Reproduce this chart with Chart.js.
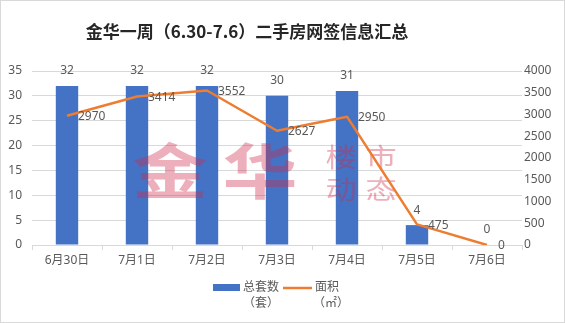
<!DOCTYPE html>
<html>
<head>
<meta charset="utf-8">
<script src="https://cdn.jsdelivr.net/npm/chart.js@4/dist/chart.umd.min.js"></script>
<style>
  html, body { margin: 0; padding: 0; background: #fff; }
  #wrap { width: 565px; height: 323px; }
</style>
</head>
<body>
<div id="wrap"><canvas id="weekChart" width="565" height="323"></canvas></div>
<script>
// 金华一周二手房网签：套数（左轴）与面积（右轴）
const days = ['6月30日', '7月1日', '7月2日', '7月3日', '7月4日', '7月5日', '7月6日'];
const units = [32, 32, 32, 30, 31, 4, 0];
const areas = [2970, 3414, 3552, 2627, 2950, 475, 0];
const unitTicks = [0, 5, 10, 15, 20, 25, 30, 35];
const areaTicks = [0, 500, 1000, 1500, 2000, 2500, 3000, 3500, 4000];

const titleText = '金华一周（6.30-7.6）二手房网签信息汇总';
const unitLabel = ['总套数', '（套）'];
const areaLabel = ['面积', '（㎡）'];

const BLUE = '#4472C4';
const ORANGE = '#ED7D31';
const TEXT = '#595959';
const GRID = '#d9d9d9';
const FONT = "'Noto Sans', 'Noto Sans CJK SC', sans-serif";

// pink "金华 楼市 动态" stamp laid over the bars, under the line
const watermark = {
  id: 'watermark',
  afterDatasetDraw(chart, args) {
    if (args.index !== 0) return;
    const ctx = chart.ctx;
    ctx.save();
    ctx.fillStyle = 'rgba(205, 45, 75, 0.38)';
    ctx.textAlign = 'center';
    ctx.textBaseline = 'middle';
    const big = [['金', 170, 171], ['华', 260, 171]];
    ctx.font = "bold 60px 'Noto Sans CJK SC'";
    big.forEach(([ch, x, y]) => {
      ctx.save();
      ctx.translate(x, y);
      ctx.scale(1.25, 1);
      ctx.fillText(ch, 0, 0);
      ctx.restore();
    });
    const small = [['楼', 341, 157], ['市', 381, 157], ['动', 341, 189], ['态', 381, 189]];
    ctx.font = "26px 'Noto Sans CJK SC'";
    small.forEach(([ch, x, y]) => {
      ctx.save();
      ctx.translate(x, y);
      ctx.scale(1.2, 1);
      ctx.fillText(ch, 0, 0);
      ctx.restore();
    });
    ctx.restore();
  }
};

// value labels: above the bars, to the right of the line points
const valueLabels = {
  id: 'valueLabels',
  afterDatasetsDraw(chart) {
    const ctx = chart.ctx;
    ctx.save();
    ctx.font = '12px ' + FONT;
    ctx.fillStyle = TEXT;
    ctx.textBaseline = 'middle';
    const bars = chart.getDatasetMeta(0).data;
    ctx.textAlign = 'center';
    bars.forEach((el, i) => ctx.fillText(String(units[i]), el.x, el.y - 15));
    const pts = chart.getDatasetMeta(1).data;
    ctx.textAlign = 'left';
    pts.forEach((el, i) => ctx.fillText(String(areas[i]), el.x + 11, el.y + 1));
    ctx.restore();
  }
};

// title, two-line legend and frame
const decor = {
  id: 'decor',
  afterDraw(chart) {
    const ctx = chart.ctx;
    ctx.save();
    ctx.fillStyle = '#262626';
    ctx.textAlign = 'center';
    ctx.textBaseline = 'middle';
    ctx.font = "bold 17px 'Noto Sans CJK SC', 'DejaVu Serif'";
    ctx.fillText(titleText, 247, 32);

    ctx.font = '12px ' + FONT;
    ctx.fillStyle = BLUE;
    ctx.fillRect(213, 284, 27, 7);
    ctx.fillStyle = TEXT;
    ctx.fillText(unitLabel[0], 261, 288);
    ctx.fillText(unitLabel[1], 261, 304);

    ctx.strokeStyle = ORANGE;
    ctx.lineWidth = 2.5;
    ctx.beginPath();
    ctx.moveTo(283, 288);
    ctx.lineTo(312, 288);
    ctx.stroke();
    ctx.fillText(areaLabel[0], 327, 288);
    ctx.fillText(areaLabel[1], 331, 304);

    ctx.strokeStyle = GRID;
    ctx.lineWidth = 1;
    ctx.strokeRect(0.5, 0.5, 564, 322);
    ctx.restore();
  }
};

new Chart(document.getElementById('weekChart'), {
  data: {
    labels: days,
    datasets: [
      {
        type: 'bar',
        label: unitLabel.join(''),
        data: units,
        backgroundColor: BLUE,
        barPercentage: 0.32,
        categoryPercentage: 1,
        yAxisID: 'y',
        order: 1,
      },
      {
        type: 'line',
        label: areaLabel.join(''),
        data: areas,
        borderColor: ORANGE,
        backgroundColor: ORANGE,
        borderWidth: 2.5,
        borderJoinStyle: 'round',
        pointRadius: 0,
        tension: 0,
        yAxisID: 'y1',
        order: 0,
      },
    ],
  },
  options: {
    responsive: false,
    animation: false,
    layout: { padding: { top: 71, bottom: 48, left: 0, right: 0 } },
    plugins: {
      legend: { display: false },
      title: { display: false },
      tooltip: { enabled: false },
    },
    scales: {
      x: {
        offset: true,
        grid: { drawOnChartArea: false, color: GRID, tickLength: 5, offset: true },
        border: { color: GRID },
        ticks: { color: TEXT, font: { size: 12, family: FONT }, padding: 3, maxRotation: 0 },
        afterFit: (s) => { s.height = 30; },
      },
      y: {
        position: 'left',
        min: 0,
        max: unitTicks[unitTicks.length - 1],
        grid: { color: GRID, drawTicks: false },
        border: { display: false },
        afterBuildTicks: (s) => { s.ticks = unitTicks.map((v) => ({ value: v })); },
        ticks: { color: TEXT, font: { size: 12, family: FONT }, padding: 10, callback: (v) => String(v) },
        afterFit: (s) => { s.width = 32; },
      },
      y1: {
        position: 'right',
        min: 0,
        max: areaTicks[areaTicks.length - 1],
        grid: { display: false, drawTicks: false },
        border: { display: false },
        afterBuildTicks: (s) => { s.ticks = areaTicks.map((v) => ({ value: v })); },
        ticks: { color: TEXT, font: { size: 12, family: FONT }, padding: 2, callback: (v) => String(v) },
        afterFit: (s) => { s.width = 43; },
      },
    },
  },
  plugins: [watermark, valueLabels, decor],
});
</script>
</body>
</html>
